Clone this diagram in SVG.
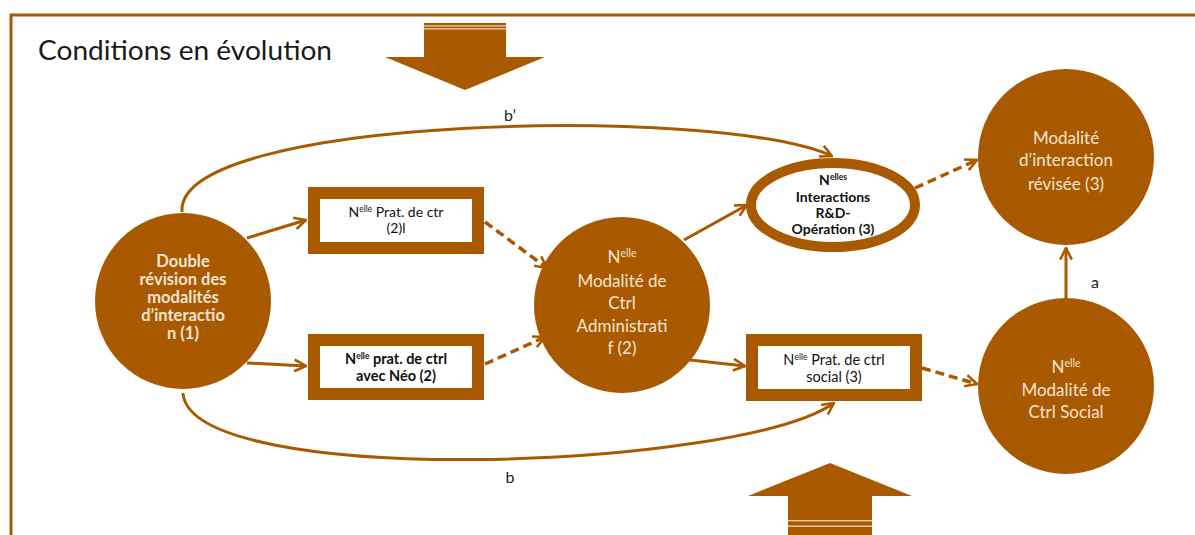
<svg xmlns="http://www.w3.org/2000/svg" width="1195" height="535" viewBox="0 0 1195 535">
<style>
.brown{fill:#A95A00}
.frame{fill:none;stroke:#A95A00;stroke-width:3}
.con{fill:none;stroke:#A95A00;stroke-width:3}
.dash{fill:none;stroke:#A95A00;stroke-width:3.5;stroke-dasharray:9 5}
.ct{font-family:Lato,"Liberation Sans",sans-serif;fill:#F3E4D3;text-anchor:middle}
.bt{font-family:Lato,"Liberation Sans",sans-serif;fill:#111;text-anchor:middle}
.lbl{font-family:Lato,"Liberation Sans",sans-serif;fill:#222;font-size:16px;text-anchor:middle}
.bold{font-weight:bold}
</style>
<defs>
<marker id="ah" viewBox="0 0 12 12" refX="11" refY="6" markerWidth="14" markerHeight="14" markerUnits="userSpaceOnUse" orient="auto">
<path d="M1,1 L11,6 L1,11" fill="none" stroke="#A95A00" stroke-width="2.2"/>
</marker>
</defs>
<rect width="1195" height="535" fill="#fff"/>
<path class="frame" d="M11,535 L11,15 L1195,15"/>
<text x="38" y="60" font-family="Lato,'Liberation Sans',sans-serif" font-size="26" fill="#1a1a1a" textLength="294" lengthAdjust="spacingAndGlyphs">Conditions en évolution</text>
<g id="arrow-top">
<path class="brown" d="M424,23 L506,23 L506,57 L545,57 L465,90 L385,57 L424,57 Z"/>
<rect x="424" y="25.2" width="82" height="1.3" fill="#fff" opacity="0.7"/>
<rect x="424" y="28.2" width="82" height="1.3" fill="#fff" opacity="0.7"/>
</g>
<g id="arrow-bottom">
<path class="brown" d="M830,463 L912,496 L872,496 L872,535 L788,535 L788,496 L748,496 Z"/>
<rect x="788" y="520" width="84" height="1.4" fill="#fff" opacity="0.7"/>
<rect x="788" y="525.5" width="84" height="1.4" fill="#fff" opacity="0.7"/>
</g>
<g id="connectors">
<path class="con" d="M182,212 C175,115 720,105 832,156" marker-end="url(#ah)"/>
<path class="con" d="M183,393 C190,490 740,470 834,403" marker-end="url(#ah)"/>
<path class="con" d="M247,238 L306,220" marker-end="url(#ah)"/>
<path class="con" d="M247,363 L306,366" marker-end="url(#ah)"/>
<path class="dash" d="M485,222 L547,268" marker-end="url(#ah)"/>
<path class="dash" d="M485,364 L545,337" marker-end="url(#ah)"/>
<path class="con" d="M684,240 L747,205" marker-end="url(#ah)"/>
<path class="con" d="M690,360 L745,366" marker-end="url(#ah)"/>
<path class="dash" d="M915,188 L977,160" marker-end="url(#ah)"/>
<path class="dash" d="M922,368 L977,384" marker-end="url(#ah)"/>
<path class="con" d="M1066,298 L1066,248" marker-end="url(#ah)"/>
<text class="lbl" x="510" y="121">b’</text>
<text class="lbl" x="510" y="483">b</text>
<text class="lbl" x="1095" y="288">a</text>
</g>
<g id="n1">
<circle class="brown" cx="183" cy="301" r="88"/>
<text class="ct bold" font-size="16.5"><tspan x="183" y="267">Double</tspan><tspan x="183" y="285">révision des</tspan><tspan x="183" y="303">modalités</tspan><tspan x="183" y="321">d’interactio</tspan><tspan x="183" y="339">n (1)</tspan></text>
</g>
<g id="n2">
<rect x="314" y="193" width="164" height="55" fill="#fff" stroke="#A95A00" stroke-width="12"/>
<text class="bt" font-size="14"><tspan x="396" y="217">N<tspan font-size="8.5" dy="-5">elle</tspan><tspan dy="5"> Prat. de ctr</tspan></tspan><tspan x="396" y="233">(2)l</tspan></text>
</g>
<g id="n3">
<rect x="314" y="340" width="164" height="54" fill="#fff" stroke="#A95A00" stroke-width="12"/>
<text class="bt bold" font-size="14.5"><tspan x="396" y="364">N<tspan font-size="8.5" dy="-5">elle</tspan><tspan dy="5"> prat. de ctrl</tspan></tspan><tspan x="396" y="381">avec Néo (2)</tspan></text>
</g>
<g id="n4">
<circle class="brown" cx="622" cy="305" r="88"/>
<text class="ct" font-size="17"><tspan x="622" y="263">N<tspan font-size="10.5" dy="-6">elle</tspan></tspan><tspan x="622" y="287">Modalité de</tspan><tspan x="622" y="309">Ctrl</tspan><tspan x="622" y="332">Administrati</tspan><tspan x="622" y="354">f (2)</tspan></text>
</g>
<g id="n5">
<ellipse cx="833" cy="205" rx="82" ry="42" fill="#fff" stroke="#A95A00" stroke-width="10"/>
<text class="bt bold" font-size="14"><tspan x="833" y="185">N<tspan font-size="8.5" dy="-5">elles</tspan></tspan><tspan x="833" y="202">Interactions</tspan><tspan x="833" y="218">R&amp;D-</tspan><tspan x="833" y="234">Opération (3)</tspan></text>
</g>
<g id="n6">
<rect x="752" y="340" width="164" height="55" fill="#fff" stroke="#A95A00" stroke-width="12"/>
<text class="bt" font-size="14.5"><tspan x="834" y="365">N<tspan font-size="8.5" dy="-5">elle</tspan><tspan dy="5"> Prat. de ctrl</tspan></tspan><tspan x="834" y="382">social (3)</tspan></text>
</g>
<g id="n7">
<circle class="brown" cx="1066" cy="157" r="88"/>
<text class="ct" font-size="17"><tspan x="1066" y="144">Modalité</tspan><tspan x="1066" y="166">d’interaction</tspan><tspan x="1066" y="190">révisée (3)</tspan></text>
</g>
<g id="n8">
<circle class="brown" cx="1066" cy="386" r="88"/>
<text class="ct" font-size="17"><tspan x="1066" y="373">N<tspan font-size="10.5" dy="-6">elle</tspan></tspan><tspan x="1066" y="396">Modalité de</tspan><tspan x="1066" y="418">Ctrl Social</tspan></text>
</g>
</svg>
